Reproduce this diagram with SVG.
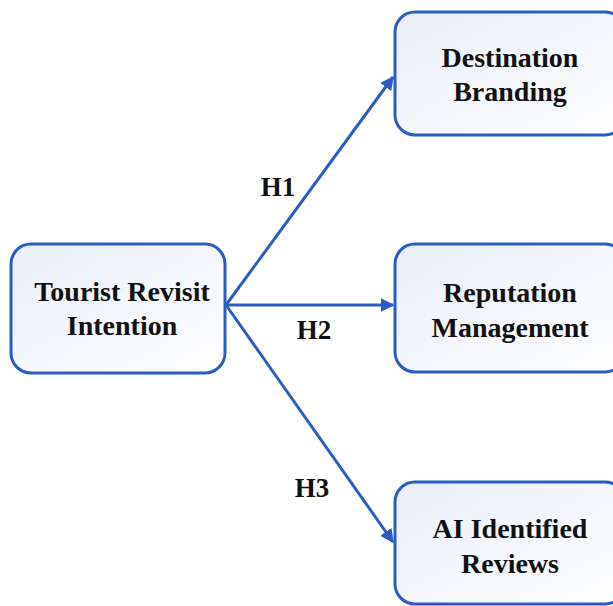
<svg xmlns="http://www.w3.org/2000/svg" width="613" height="606" viewBox="0 0 613 606">
<style>
.box{fill:url(#g);stroke:#2a5cc4;stroke-width:3}
.t{font-family:"Liberation Serif","Times New Roman",serif;font-weight:bold;font-size:28px;fill:#111;text-anchor:middle}
.h{font-family:"Liberation Serif","Times New Roman",serif;font-weight:bold;font-size:27px;fill:#111;text-anchor:middle}
.c{stroke:#2a5cc4;stroke-width:3;fill:none;marker-end:url(#a)}
</style>
<defs>
<linearGradient id="g" x1="0" y1="0" x2="1" y2="1">
<stop offset="0" stop-color="#e9eef8"/>
<stop offset="1" stop-color="#ffffff"/>
</linearGradient>
<marker id="a" viewBox="0 0 10 10" refX="9" refY="5" markerWidth="4.6" markerHeight="4.6" orient="auto" markerUnits="strokeWidth">
<path d="M0,0 L10,5 L0,10 z" fill="#2a5cc4"/>
</marker>
</defs>
<rect width="613" height="606" fill="#fff"/>
<g id="connectors">
<line class="c" x1="226" y1="305" x2="393" y2="77"/>
<line class="c" x1="226" y1="305" x2="393" y2="305"/>
<line class="c" x1="226" y1="305" x2="393" y2="542"/>
</g>
<g id="labels">
<text class="h" x="278" y="196">H1</text>
<text class="h" x="314" y="339">H2</text>
<text class="h" x="312" y="497">H3</text>
</g>
<g id="n-tourist">
<rect class="box" x="11" y="244" width="214" height="129" rx="20"/>
<text class="t" x="122" y="301">Tourist Revisit</text>
<text class="t" x="122" y="335">Intention</text>
</g>
<g id="n-destination">
<rect class="box" x="395" y="12" width="230" height="123" rx="20"/>
<text class="t" x="510" y="67">Destination</text>
<text class="t" x="510" y="101">Branding</text>
</g>
<g id="n-reputation">
<rect class="box" x="395" y="244" width="230" height="128" rx="20"/>
<text class="t" x="510" y="302">Reputation</text>
<text class="t" x="510" y="337">Management</text>
</g>
<g id="n-ai">
<rect class="box" x="395" y="482" width="230" height="122" rx="20"/>
<text class="t" x="510" y="538">AI Identified</text>
<text class="t" x="510" y="573">Reviews</text>
</g>
</svg>
